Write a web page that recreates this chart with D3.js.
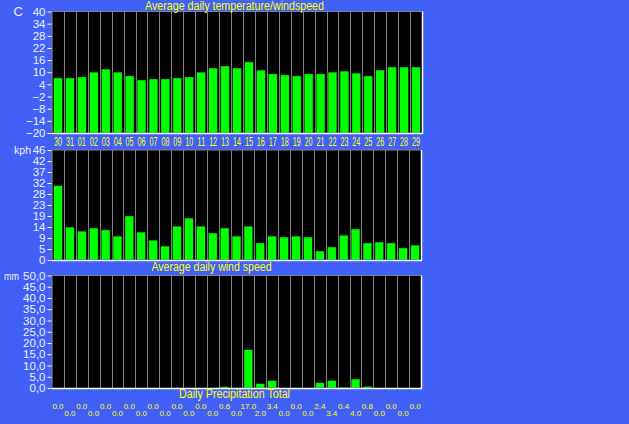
<!DOCTYPE html>
<html><head><meta charset="utf-8">
<script src="https://cdn.jsdelivr.net/npm/d3@7"></script>
<style>
html,body{margin:0;padding:0;background:#4060f8;}
svg{display:block;}
text{font-family:"Liberation Sans",Arial,sans-serif;}
</style></head>
<body>
<svg id="c" width="629" height="424"></svg>
<script>
const days = ["30","31","01","02","03","04","05","06","07","08","09","10","11","12","13","14","15","16","17","18","19","20","21","22","23","24","25","26","27","28","29"];
const temperature = [7.2,7.2,7.7,10.1,11.6,10.1,8.2,6.2,6.7,6.7,7.2,7.7,10.1,12.1,13.1,12.1,15.1,11.1,9.2,8.7,8.2,9.2,9.2,10.1,10.6,9.6,8.2,11.1,12.6,12.6,12.6];
const windSpeed = [31.4,13.9,12.2,13.5,12.7,10.1,18.6,11.8,8.4,5.9,14.3,17.7,14.3,11.4,13.5,10.1,14.3,7.2,10.1,9.7,10.1,9.7,3.8,5.5,10.5,13.1,7.2,7.6,7.2,5.1,6.3];
const precipitation = [0,0,0,0,0,0,0,0,0,0,0,0,0,0,0.6,0,17.0,2.0,3.4,0,0,0,2.4,3.4,0.4,4.0,0.8,0,0,0,0];
const tempTicks = [-20,-14,-8,-2,4,10,16,22,28,34,40];
const windMax = 46.4;
const windTicks = d3.range(11).map(k => windMax * k / 10);
const precipTicks = [0,5,10,15,20,25,30,35,40,45,50];
const titles = ["Average daily temperature/windspeed","Average daily wind speed","Daily Precipitation Total"];
const units = ["C","kph","mm"];

const svg = d3.select("#c");
svg.append("rect").attr("width",629).attr("height",424).attr("fill","#4060f8");

const GREEN="#00ff00", YEL="#ffff00", GRAY="#808080", LBL="#f0f0ff";

function panel(o){
  const x = d3.scaleBand().domain(days).range([o.left,o.right]).paddingInner(0.25).paddingOuter(0.125);
  const y = d3.scaleLinear().domain(o.domain).range([o.bottom,o.top]);
  const g = svg.append("g");
  g.append("rect").attr("x",o.left).attr("y",o.top).attr("width",o.right-o.left).attr("height",o.bottom-o.top).attr("fill","#000");
  const step = x.step();
  g.selectAll("line.sep").data(days.slice(0,-1)).join("line")
    .attr("x1",d=>Math.round(x(d)+x.bandwidth()+step*0.125)+0.5)
    .attr("x2",d=>Math.round(x(d)+x.bandwidth()+step*0.125)+0.5)
    .attr("y1",o.top).attr("y2",o.bottom).attr("stroke",GRAY).attr("stroke-width",1);
  g.selectAll("rect.bar").data(o.values).join("rect")
    .attr("x",(d,i)=>x(days[i])).attr("width",x.bandwidth())
    .attr("y",d=>y(d)).attr("height",d=>Math.max(0,y(o.domain[0])-y(d)))
    .attr("fill",GREEN).attr("stroke","#000").attr("stroke-width",0.5);
  g.append("line").attr("x1",o.left).attr("x2",o.right).attr("y1",o.top).attr("y2",o.top).attr("stroke",GRAY).attr("stroke-width",1.2);
  g.append("line").attr("x1",o.left).attr("x2",o.left).attr("y1",o.top).attr("y2",o.bottom).attr("stroke",GRAY).attr("stroke-width",1.2);
  g.append("line").attr("x1",o.left).attr("x2",o.right+1).attr("y1",o.bottom+0.5).attr("y2",o.bottom+0.5).attr("stroke","#fff").attr("stroke-width",1.5);
  g.append("line").attr("x1",o.right+0.5).attr("x2",o.right+0.5).attr("y1",o.top).attr("y2",o.bottom+1).attr("stroke","#fff").attr("stroke-width",1.5);
  const ax = g.append("g").attr("transform",`translate(${o.left-0.5},0)`)
    .call(d3.axisLeft(y).tickValues(o.ticks).tickFormat(o.fmt).tickSize(4).tickPadding(2));
  ax.select(".domain").remove();
  ax.selectAll(".tick line").attr("stroke","#fff").attr("stroke-width",1);
  ax.selectAll(".tick text").attr("fill",LBL).attr("font-size",o.fs).attr("font-family","Liberation Sans, Arial, sans-serif");
  const u = g.append("text").attr("x",o.unitX).attr("y",o.top).attr("dy","0.35em").attr("text-anchor","end")
    .attr("fill",LBL).attr("font-size",o.ufs).text(o.unit);
  if (o.unitLen) u.attr("textLength",o.unitLen).attr("lengthAdjust","spacingAndGlyphs");
  return {x,y,g};
}

const p1 = panel({left:52,right:422,top:11.5,bottom:133,domain:[-20,40],values:temperature,ticks:tempTicks,fmt:d3.format("d"),unit:units[0],unitX:23,fs:11.5,ufs:13});
const p2 = panel({left:52,right:421,top:150,bottom:260,domain:[0,windMax],values:windSpeed,ticks:windTicks,fmt:d3.format(".0f"),unit:units[1],unitX:31,fs:11.5,ufs:11.5,unitLen:17});
const p3 = panel({left:52,right:421,top:275.5,bottom:388,domain:[0,50],values:precipitation,ticks:precipTicks,fmt:d=>d3.format(".1f")(d).replace(".",","),unit:units[2],unitX:19,fs:11.5,ufs:11.5,unitLen:15});

function title(t,cx,by,len,fs){
  svg.append("text").attr("x",cx).attr("y",by).attr("text-anchor","middle").attr("fill",YEL)
    .attr("font-size",fs).attr("textLength",len).attr("lengthAdjust","spacingAndGlyphs").text(t);
}
title(titles[0],234.5,9.5,179,12.5);
title(titles[1],211.5,271,120,12.5);
title(titles[2],234.5,397.5,111,12);

svg.append("g").selectAll("text").data(days).join("text")
  .attr("x",d=>p1.x(d)+p1.x.bandwidth()/2).attr("y",146).attr("text-anchor","middle")
  .attr("fill",YEL).attr("font-size",12).attr("textLength",8).attr("lengthAdjust","spacingAndGlyphs").text(d=>d);

svg.append("g").selectAll("text").data(precipitation).join("text")
  .attr("x",(d,i)=>p3.x(days[i])+p3.x.bandwidth()/2).attr("y",(d,i)=>i%2===0?408.5:416)
  .attr("text-anchor","middle").attr("fill",YEL).attr("font-size",8).text(d=>d3.format(".1f")(d));
</script>
</body></html>
